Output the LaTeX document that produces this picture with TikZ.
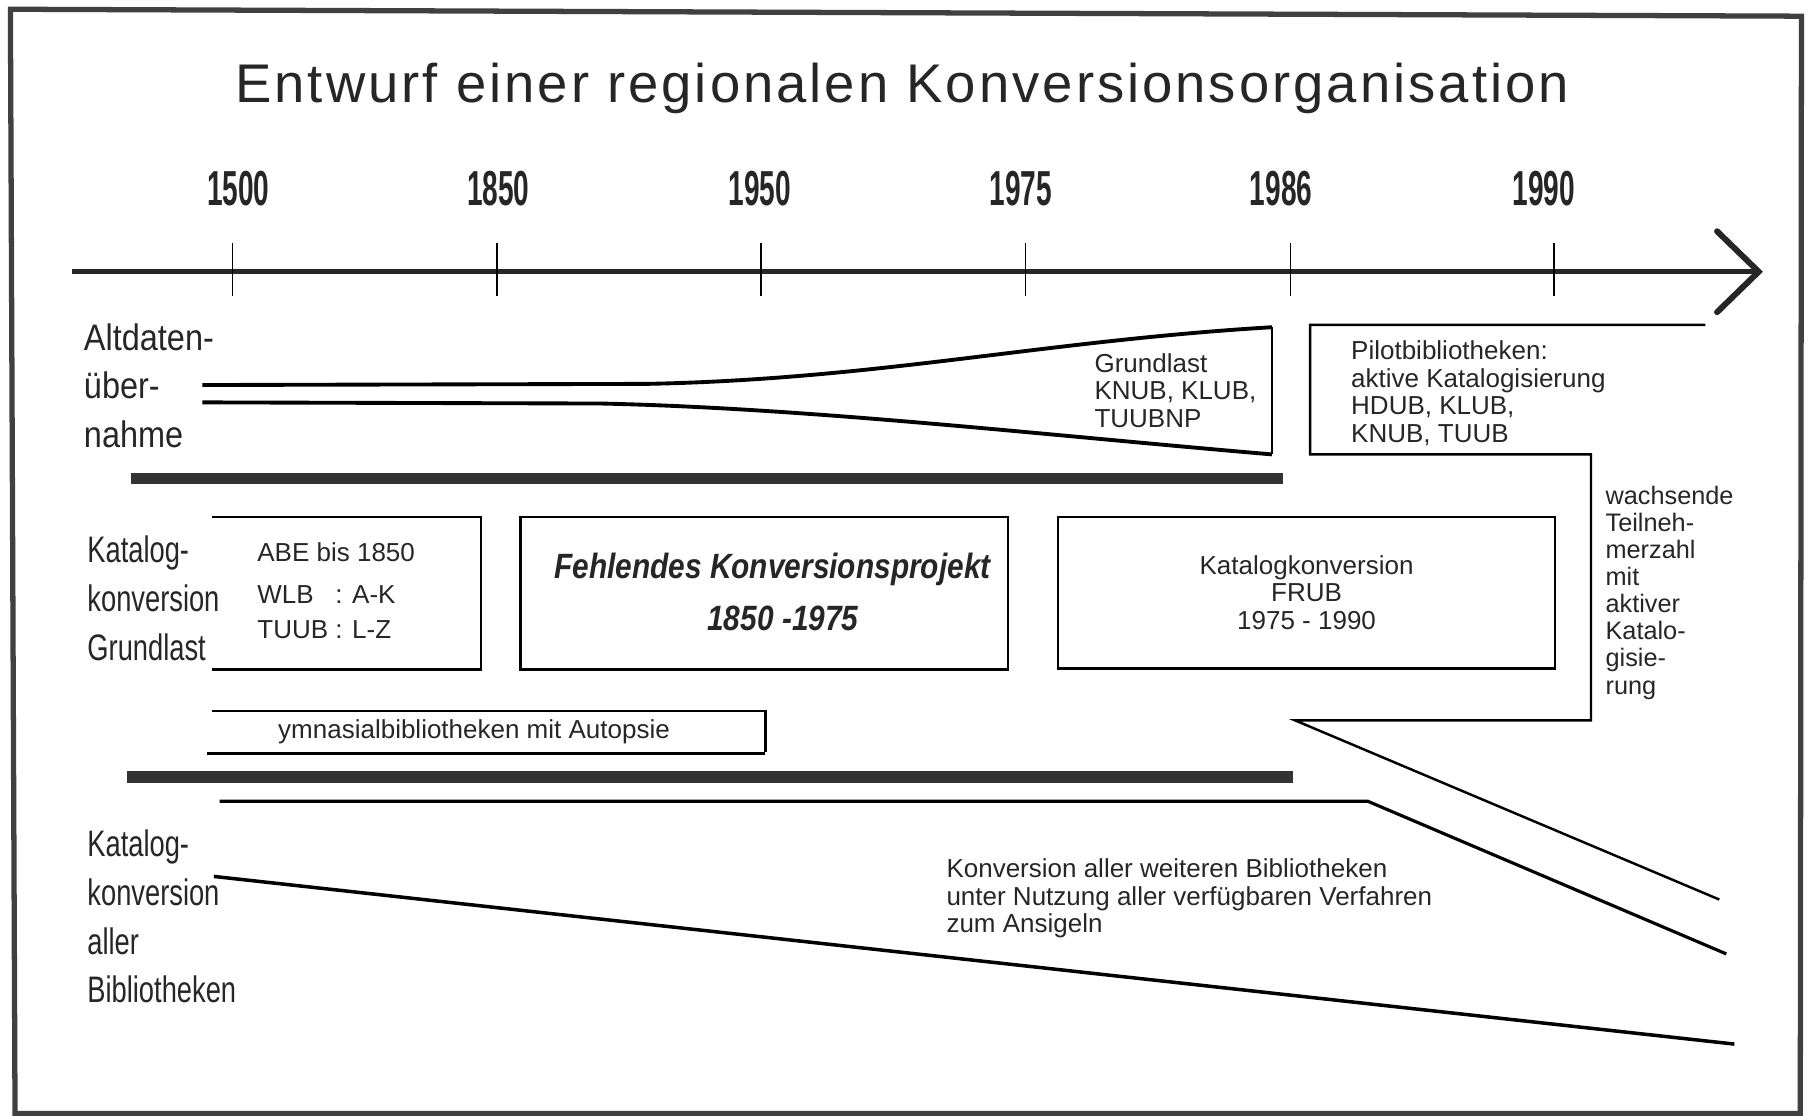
\documentclass[tikz,border=0pt]{standalone}
\usepackage{fontspec}
\setmainfont{Liberation Sans}
\newfontfamily\titlefont[LetterSpace=5.5]{Liberation Sans}
\newfontfamily\yearfont[FakeStretch=0.57]{Liberation Sans}
\newfontfamily\narrowfont[FakeStretch=0.74]{Liberation Sans}
\newfontfamily\semifont[FakeStretch=0.88]{Liberation Sans}
\newfontfamily\gapfont[FakeStretch=0.85]{Liberation Sans}
\usetikzlibrary{positioning}

\tikzset{
  yearlbl/.style={font=\yearfont\bfseries\fontsize{14}{14}\selectfont, inner sep=0pt},
  rowlbl/.style={font=\narrowfont\fontsize{10.5}{13.9}\selectfont, align=left, anchor=north west, inner sep=0pt},
  smalltxt/.style={font=\fontsize{7.4}{7.9}\selectfont, align=left, inner sep=0pt},
  heavybar/.style={line width=3.3pt, black!80},
  thinbox/.style={line width=0.7pt},
}

\begin{document}
\begin{tikzpicture}[x=0.011562cm, y=-0.011562cm, text=black!85]
      \useasboundingbox (0,0) rectangle (1568,965);

      % Frame
      \draw[line width=1.5pt, black!75] (9,8) -- (1558,14) -- (1557,963) -- (13,963) -- cycle;

      % Title
      \node[font=\titlefont\fontsize{15.5}{15.5}\selectfont, anchor=base west, inner sep=0pt] (title) at (203,89)
        {Entwurf einer regionalen Konversionsorganisation};

      % Timeline
      \draw[line width=1.5pt, black!85] (62,235) -- (1518,235);
      \draw[line width=1.7pt, black!85, line cap=round] (1485,200) -- (1521,235) -- (1485,270);

      % Year markers
      \foreach \x in {201,430,658,887,1116,1344} {
        \draw[line width=0.5pt] (\x,210) -- (\x,256);
      }
      \foreach \x/\yr in {206/1500, 431/1850, 657/1950, 883/1975, 1108/1986, 1335/1990} {
        \node[yearlbl] (yr\yr) at (\x,163) {\yr};
      }

      % Altdatenuebernahme
      \node[rowlbl, font=\semifont\fontsize{10.5}{13.9}\selectfont] (altlbl) at (72,279) {Altdaten-\\über-\\nahme};
      \draw[line width=1.1pt] (175,333) -- (560,332) .. controls (760,328) and (900,295) .. (1100,283);
      \draw[line width=1.1pt] (175,348) -- (520,349) .. controls (700,353) and (900,376) .. (1100,393);
      \draw[thinbox] (1100,283) -- (1100,393);
      \node[smalltxt, anchor=north west] (grundtxt) at (946,305) {Grundlast\\KNUB, KLUB,\\TUUBNP};

      % Pilotbibliotheken
      \draw[thinbox] (1475,281) -- (1133,281) -- (1133,393) -- (1376,393) -- (1376,623) -- (1120,623) -- (1487,778);
      \node[smalltxt, anchor=north west] (pilottxt) at (1168,294)
        {Pilotbibliotheken:\\aktive Katalogisierung\\HDUB, KLUB,\\KNUB, TUUB};
      \node[smalltxt, font=\fontsize{7.2}{7.7}\selectfont, anchor=north west] (wachstxt) at (1388,420)
        {wachsende\\Teilneh-\\merzahl\\mit\\aktiver\\Katalo-\\gisie-\\rung};

      % Separators
      \draw[heavybar] (113,414) -- (1110,414);
      \draw[heavybar] (110,672) -- (1118,672);

      % Katalogkonversion Grundlast
      \node[rowlbl] (kglbl) at (75,463) {Katalog-\\konversion\\Grundlast};
      \draw[thinbox] (183,447) -- (416,447) -- (416,579) -- (183,579);
      \node[smalltxt, anchor=north west] (abetxt) at (222,469)
        {ABE bis 1850\\[4pt]\makebox[3.0em][l]{WLB}: A-K\\[2pt]\makebox[3.0em][l]{TUUB}: L-Z};
      \node[draw, thinbox, minimum width=4.879cm, minimum height=1.526cm, inner sep=0pt] (gapbox) at (661,513) {};
      \node[font=\gapfont\bfseries\itshape\fontsize{10}{14.8}\selectfont, align=center, inner sep=0pt] (gaptxt) at (668,512)
        {Fehlendes Konversionsprojekt\\\hspace*{6pt}1850 -1975};
      \node[draw, thinbox, minimum width=4.972cm, minimum height=1.515cm, smalltxt, align=center] (frubbox) at (1130,512.5)
        {Katalogkonversion\\FRUB\\1975 - 1990};

      % Gymnasialbibliotheken
      \draw[thinbox] (183,615) -- (662,615) -- (662,650);
      \draw[line width=0.9pt] (179,652) -- (662,652);
      \node[smalltxt] (gymtxt) at (410,633) {ymnasialbibliotheken mit Autopsie};

      % Katalogkonversion aller Bibliotheken
      \node[rowlbl] (kalbl) at (75,717) {Katalog-\\konversion\\aller\\Bibliotheken};
      \draw[line width=0.9pt] (190,693) -- (1183,693) -- (1493,825);
      \draw[line width=1pt] (185,758) -- (1500,903);
      \node[smalltxt, anchor=north west] (allertxt) at (818,742)
        {Konversion aller weiteren Bibliotheken\\unter Nutzung aller verfügbaren Verfahren\\zum Ansigeln};
    \end{tikzpicture}
\end{document}
